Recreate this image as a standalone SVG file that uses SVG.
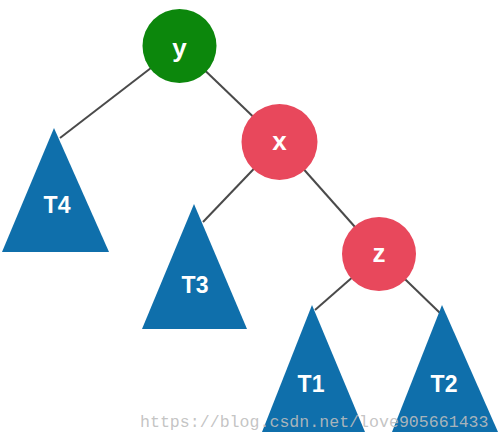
<svg xmlns="http://www.w3.org/2000/svg" width="502" height="442" viewBox="0 0 502 442">
<style>
.edge{stroke:#4a4a4a;stroke-width:2;fill:none}
.green{fill:#0c870c}
.red{fill:#e8485c}
.tri{fill:#0f6fab}
.lbl{font-family:"Liberation Sans",Arial,sans-serif;font-weight:bold;fill:#ffffff;text-anchor:middle}
.nl{font-size:26px}
.tl{font-size:23px}
.wm{font-family:"Liberation Mono","Courier New",monospace;font-size:16.6px;fill:#bdbdbd;fill-opacity:0.9}
</style>
<rect width="502" height="442" fill="#ffffff"/>
<g id="connectors">
<line class="edge" x1="179.5" y1="46" x2="60" y2="138"/>
<line class="edge" x1="179.5" y1="46" x2="279.5" y2="142"/>
<line class="edge" x1="279.5" y1="142" x2="203" y2="222"/>
<line class="edge" x1="279.5" y1="142" x2="379" y2="254"/>
<line class="edge" x1="379" y1="254" x2="315" y2="310"/>
<line class="edge" x1="379" y1="254" x2="440" y2="313"/>
</g>
<g id="node-y"><circle class="green" cx="179.5" cy="46" r="37"/><text class="lbl nl" x="179.5" y="57">y</text></g>
<g id="node-x"><circle class="red" cx="279.5" cy="142" r="38"/><text class="lbl nl" x="279.5" y="150">x</text></g>
<g id="node-z"><circle class="red" cx="379" cy="254" r="37"/><text class="lbl nl" x="379" y="262">z</text></g>
<g id="node-T4"><polygon class="tri" points="54,128 109,252 2,252"/><text class="lbl tl" x="57" y="213">T4</text></g>
<g id="node-T3"><polygon class="tri" points="194,204 247,329 142,329"/><text class="lbl tl" x="195" y="293">T3</text></g>
<g id="node-T1"><polygon class="tri" points="312,305 365,432 262,432"/><text class="lbl tl" x="311" y="392">T1</text></g>
<g id="node-T2"><polygon class="tri" points="442,305 498,432 392,432"/><text class="lbl tl" x="444" y="392">T2</text></g>
<text class="wm" x="140" y="427">https://blog.csdn.net/love905661433</text>
</svg>
